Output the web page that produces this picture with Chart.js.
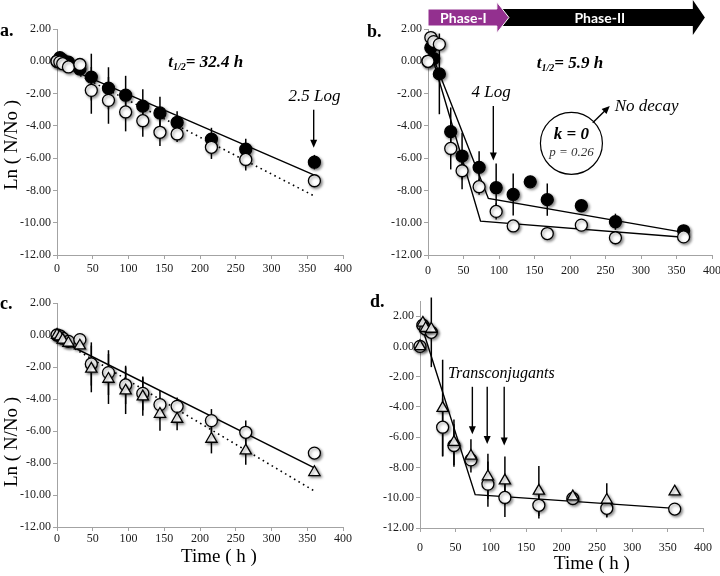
<!DOCTYPE html>
<html>
<head>
<meta charset="utf-8">
<script src="https://cdn.jsdelivr.net/npm/chart.js@4.4.0/dist/chart.umd.min.js"></script>
<style>
  body { margin: 0; background: #fff; width: 720px; height: 576px; position: relative; overflow: hidden; }
  canvas { position: absolute; }
</style>
</head>
<body>
<canvas id="a" width="360" height="290" style="left:0;top:0"></canvas>
<canvas id="b" width="360" height="290" style="left:360px;top:0"></canvas>
<canvas id="c" width="360" height="286" style="left:0;top:290px"></canvas>
<canvas id="d" width="360" height="286" style="left:360px;top:290px"></canvas>
<script>
// sampling times (h)
const hours = [0, 4, 8, 16, 32, 48, 72, 96, 120, 144, 168, 216, 264, 360];
const hoursShort = [0, 4, 8, 16, 32, 48, 72, 96, 120, 168, 216, 264, 360];
const xTicks = [0, 50, 100, 150, 200, 250, 300, 350, 400];
const yTicks = [2, 0, -2, -4, -6, -8, -10, -12];

// a.
const filledA    = [0, 0.22, 0.08, -0.05, -0.48, -0.98, -1.67, -2.1, -2.78, -3.2, -3.79, -4.82, -5.45, -6.25];
const filledErrA = [0, 0, 0, 0, 0.15, 1.45, 1.3, 1.2, 1.05, 1.0, 0.7, 0.7, 0.65, 0.45];
const openA      = [0, -0.05, -0.15, -0.35, -0.2, -1.8, -2.42, -3.14, -3.68, -4.4, -4.5, -5.33, -6.08, -7.4];
const openErrA   = [0, 0, 0, 0, 0.15, 1.45, 1.45, 1.2, 1.0, 0.85, 0.5, 0.72, 0.68, 0.38];
const fitXA      = [0, 360];
const fitFilledA = [-0.15, -7.05];
const fitOpenA   = [-0.15, -8.35];

// b.
const filledB    = [0, 0.84, 0.17, -0.78, -4.36, -5.87, -6.57, -7.83, -8.25, -7.47, -8.57, -8.95, -9.94, -10.5];
const filledErrB = [0, 0, 0, 2.5, 1.5, 1.45, 1.0, 1.5, 1.3, 0, 1.0, 0, 0.5, 0.2];
const openB      = [0, 1.47, 1.22, 1.05, -5.4, -6.78, -7.77, -9.3, -10.2, -10.67, -10.15, -10.93, -10.88];
const openErrB   = [0, 0, 0, 0.3, 1.3, 1.15, 0.5, 0.5, 0.2, 0, 0, 0.4, 0];
const fitXFilledB = [3, 85, 360];
const fitFilledB  = [0.7, -8.5, -10.6];
const fitXOpenB   = [3, 74, 360];
const fitOpenB    = [0.7, -9.9, -10.9];

// c.
const circC    = [0, -0.05, -0.2, -0.4, -0.29, -1.81, -2.35, -3.12, -3.65, -4.35, -4.46, -5.35, -6.08, -7.38];
const circErrC = [0, 0, 0, 0, 0.2, 1.35, 1.4, 1.2, 1.05, 0.9, 0.55, 0.72, 0.73, 0.38];
const triC     = [0, -0.1, -0.3, -0.5, -0.67, -2.12, -2.75, -3.48, -3.85, -4.94, -5.25, -6.5, -7.23, -8.58];
const triErrC  = [0, 0, 0, 0, 0.2, 1.46, 1.56, 1.46, 1.2, 1.04, 0.7, 0.9, 0.88, 0];
const fitXC    = [0, 360];
const fitCircC = [-0.25, -8.3];
const fitTriC  = [-0.2, -9.75];

// d.
const circD    = [0, 1.4, 1.15, 0.93, -5.34, -6.55, -7.5, -9.1, -9.98, -10.5, -10.05, -10.7, -10.75];
const circErrD = [0, 0, 0, 2.3, 1.9, 1.4, 0.4, 1.5, 1.3, 0.87, 0.2, 0.6, 0.2];
const triD     = [0, 1.55, 1.2, 1.15, -4.08, -6.33, -7.24, -8.6, -8.87, -9.55, -9.93, -10.15, -9.6];
const triErrD  = [0, 0, 0, 0, 3.2, 1.5, 1.1, 1.5, 1.6, 1.65, 0.2, 1.1, 0.2];
const fitXD    = [4, 78, 360];
const fitD     = [1.1, -9.8, -10.7];

const serif = '"Liberation Serif", "Times New Roman", serif';
const axisGrey = '#a3a3a3';
Chart.defaults.font.family = serif;

function pts(xs, ys) {
  return xs.map((x, i) => ({ x: x, y: ys[i] }));
}

function markers(xs, ys, style) {
  return {
    data: pts(xs, ys),
    pointStyle: style === 'tri' ? 'triangle' : 'circle',
    pointRadius: style === 'tri' ? 6.5 : 6,
    pointBackgroundColor: style === 'filled' ? '#000' : '#fff',
    pointBorderColor: '#000',
    pointBorderWidth: 1.3,
    showLine: false,
    clip: false,
    shadow: true
  };
}

function fitLine(xs, ys, dotted) {
  return {
    data: pts(xs, ys),
    showLine: true,
    borderColor: '#000',
    borderWidth: dotted ? 1.6 : 1.4,
    borderDash: dotted ? [1.6, 3.6] : [],
    pointRadius: 0,
    fill: false,
    clip: false
  };
}

function arrow(ctx, x1, y1, x2, y2, head) {
  const h = head || 8;
  const ang = Math.atan2(y2 - y1, x2 - x1);
  ctx.beginPath();
  ctx.moveTo(x1, y1);
  ctx.lineTo(x2 - Math.cos(ang) * h * 0.8, y2 - Math.sin(ang) * h * 0.8);
  ctx.stroke();
  ctx.beginPath();
  ctx.moveTo(x2, y2);
  ctx.lineTo(x2 - h * Math.cos(ang) + 3.5 * Math.sin(ang), y2 - h * Math.sin(ang) - 3.5 * Math.cos(ang));
  ctx.lineTo(x2 - h * Math.cos(ang) - 3.5 * Math.sin(ang), y2 - h * Math.sin(ang) + 3.5 * Math.cos(ang));
  ctx.closePath();
  ctx.fill();
}

const extras = {
  id: 'extras',
  beforeDatasetsDraw(chart, args, o) {
    const ctx = chart.ctx, xs = chart.scales.x, ys = chart.scales.y;
    ctx.save();
    ctx.strokeStyle = '#000';
    ctx.lineWidth = 1.5;
    (o.errors || []).forEach(e => {
      e.x.forEach((t, i) => {
        const d = e.err[i];
        if (!d) return;
        const px = xs.getPixelForValue(t);
        ctx.beginPath();
        ctx.moveTo(px, ys.getPixelForValue(e.y[i] + d));
        ctx.lineTo(px, ys.getPixelForValue(e.y[i] - d));
        ctx.stroke();
      });
    });
    ctx.restore();
  },
  beforeDatasetDraw(chart, args) {
    if (chart.data.datasets[args.index].shadow) {
      const ctx = chart.ctx;
      ctx.save();
      ctx.shadowColor = 'rgba(0,0,0,0.45)';
      ctx.shadowBlur = 3;
      ctx.shadowOffsetX = 1.5;
      ctx.shadowOffsetY = 1.5;
    }
  },
  afterDatasetDraw(chart, args) {
    if (chart.data.datasets[args.index].shadow) chart.ctx.restore();
  },
  afterDraw(chart, args, o) {
    const ctx = chart.ctx, xs = chart.scales.x, ys = chart.scales.y;
    const X = v => xs.getPixelForValue(v), Y = v => ys.getPixelForValue(v);
    ctx.save();
    ctx.fillStyle = '#000';
    ctx.strokeStyle = '#000';
    ctx.lineWidth = 1.4;

    // phase banner (panel b)
    if (o.phases) {
      const p = o.phases;
      ctx.fillStyle = '#000';
      ctx.beginPath();
      ctx.moveTo(X(p.blackFrom), 9);
      ctx.lineTo(X(p.blackBody), 9);
      ctx.lineTo(X(p.blackBody), 0);
      ctx.lineTo(X(p.blackTip), 17.5);
      ctx.lineTo(X(p.blackBody), 35);
      ctx.lineTo(X(p.blackBody), 26);
      ctx.lineTo(X(p.blackFrom), 26);
      ctx.closePath();
      ctx.fill();
      ctx.fillStyle = '#93308f';
      ctx.strokeStyle = '#fff';
      ctx.lineWidth = 1;
      ctx.beginPath();
      ctx.moveTo(X(0), 9);
      ctx.lineTo(X(p.purpleBody), 9);
      ctx.lineTo(X(p.purpleBody), 2);
      ctx.lineTo(X(p.purpleTip), 17.5);
      ctx.lineTo(X(p.purpleBody), 33);
      ctx.lineTo(X(p.purpleBody), 26);
      ctx.lineTo(X(0), 26);
      ctx.closePath();
      ctx.fill();
      ctx.stroke();
      ctx.fillStyle = '#fff';
      ctx.font = 'bold 14px Lato, "Open Sans", sans-serif';
      ctx.textAlign = 'center';
      ctx.textBaseline = 'middle';
      ctx.fillText('Phase-I', X(p.purpleBody / 2) + 1, 18);
      ctx.fillText('Phase-II', X(p.labelII), 18);
      ctx.fillStyle = '#000';
      ctx.strokeStyle = '#000';
      ctx.lineWidth = 1.4;
    }

    // half-life label with subscript
    if (o.half) {
      const h = o.half;
      const big = 'italic bold 17px ' + serif, small = 'italic bold 10px ' + serif;
      ctx.font = big; const w1 = ctx.measureText('t').width;
      ctx.font = small; const w2 = ctx.measureText('1/2').width;
      ctx.font = big; const w3 = ctx.measureText(h.text).width;
      let x = X(h.x) - (w1 + w2 + w3) / 2;
      const y = Y(h.y);
      ctx.textAlign = 'left';
      ctx.textBaseline = 'alphabetic';
      ctx.font = big; ctx.fillText('t', x, y + 6); x += w1;
      ctx.font = small; ctx.fillText('1/2', x, y + 9); x += w2;
      ctx.font = big; ctx.fillText(h.text, x, y + 6);
    }

    (o.texts || []).forEach(t => {
      ctx.font = t.font;
      ctx.fillStyle = t.color || '#000';
      ctx.textAlign = t.align || 'center';
      ctx.textBaseline = 'middle';
      ctx.fillText(t.text, X(t.x), Y(t.y));
    });
    ctx.fillStyle = '#000';

    (o.arrows || []).forEach(a => arrow(ctx, X(a.x1), Y(a.y1), X(a.x2), Y(a.y2)));

    if (o.circle) {
      ctx.lineWidth = 1.2;
      ctx.beginPath();
      ctx.arc(X(o.circle.x), Y(o.circle.y), o.circle.r, 0, Math.PI * 2);
      ctx.stroke();
      ctx.textAlign = 'center';
      ctx.textBaseline = 'middle';
      ctx.font = 'italic bold 17px ' + serif;
      ctx.fillText('k = 0', X(o.circle.x), Y(o.circle.y) - 9);
      ctx.font = 'italic 13px ' + serif;
      ctx.fillStyle = '#333';
      ctx.fillText('p = 0.26', X(o.circle.x), Y(o.circle.y) + 9);
      ctx.fillStyle = '#000';
    }

    // panel letter and axis titles (canvas pixels)
    (o.labels || []).forEach(l => {
      ctx.save();
      ctx.font = l.font;
      ctx.fillStyle = '#000';
      ctx.textAlign = l.align || 'center';
      ctx.textBaseline = 'middle';
      ctx.translate(l.px, l.py);
      if (l.rotate) ctx.rotate(-Math.PI / 2);
      ctx.fillText(l.text, 0, 0);
      ctx.restore();
    });
    ctx.restore();
  }
};

function makePanel(id, o) {
  const canvas = document.getElementById(id);
  const W = canvas.width, H = canvas.height;
  const gridOpts = { display: true, drawOnChartArea: false, drawTicks: true, tickLength: 4, color: axisGrey };
  const tickFont = { family: serif, size: 12 };
  return new Chart(canvas, {
    type: 'scatter',
    data: { datasets: o.datasets },
    options: {
      responsive: false,
      animation: false,
      events: [],
      layout: { padding: { top: o.area.t, right: W - o.area.r, left: 0, bottom: 0 } },
      plugins: { legend: { display: false }, tooltip: { enabled: false }, extras: o.extras },
      scales: {
        x: {
          type: 'linear', min: 0, max: 400,
          afterBuildTicks: s => { s.ticks = xTicks.map(v => ({ value: v })); },
          afterFit: s => { s.height = H - o.area.b; s.paddingLeft = 0; s.paddingRight = 0; },
          grid: gridOpts,
          border: { display: true, color: axisGrey, width: 1 },
          ticks: { padding: o.xPad, font: tickFont, color: '#1a1a1a', maxRotation: 0, autoSkip: false }
        },
        y: {
          type: 'linear', min: -12, max: o.yMax || 2,
          afterBuildTicks: s => { s.ticks = yTicks.map(v => ({ value: v })); },
          afterFit: s => { s.width = o.area.l; s.paddingTop = 0; s.paddingBottom = 0; },
          grid: gridOpts,
          border: { display: true, color: axisGrey, width: 1 },
          ticks: { padding: 2, font: tickFont, color: '#1a1a1a', autoSkip: false, callback: v => v.toFixed(2) }
        }
      }
    },
    plugins: [extras]
  });
}

const letterFont = 'bold 18px ' + serif;
const titleFont = '19px ' + serif;
const italic = 'italic 17px ' + serif;

makePanel('a', {
  area: { l: 57, r: 343, t: 29, b: 255 }, xPad: 3,
  datasets: [
    markers(hours, openA, 'open'),
    markers(hours, filledA, 'filled'),
    fitLine(fitXA, fitFilledA, false),
    fitLine(fitXA, fitOpenA, true)
  ],
  extras: {
    errors: [{ x: hours, y: filledA, err: filledErrA }, { x: hours, y: openA, err: openErrA }],
    half: { x: 208, y: 0, text: '= 32.4 h' },
    texts: [{ text: '2.5 Log', x: 360, y: -2.2, font: italic }],
    arrows: [{ x1: 359, y1: -3.0, x2: 359, y2: -5.35 }],
    labels: [
      { text: 'a.', px: 0, py: 31, font: letterFont, align: 'left' },
      { text: 'Ln ( N/No )', px: 12, py: 145, font: titleFont, rotate: true }
    ]
  }
});

makePanel('b', {
  area: { l: 68, r: 352, t: 29, b: 255 }, xPad: 5,
  datasets: [
    markers(hoursShort, openB, 'open'),
    markers(hours, filledB, 'filled'),
    fitLine(fitXFilledB, fitFilledB, false),
    fitLine(fitXOpenB, fitOpenB, false)
  ],
  extras: {
    errors: [{ x: hours, y: filledB, err: filledErrB }, { x: hoursShort, y: openB, err: openErrB }],
    phases: { purpleBody: 97, purpleTip: 114, blackFrom: 100, blackBody: 373, blackTip: 390, labelII: 242 },
    half: { x: 200, y: -0.05, text: '= 5.9 h' },
    texts: [
      { text: '4 Log', x: 89, y: -1.95, font: italic },
      { text: 'No decay', x: 263, y: -2.78, font: italic, align: 'left' }
    ],
    arrows: [
      { x1: 92, y1: -2.77, x2: 92, y2: -6.15 },
      { x1: 232, y1: -3.81, x2: 256, y2: -2.77 }
    ],
    circle: { x: 202, y: -5.08, r: 31 },
    labels: [{ text: 'b.', px: 7, py: 32, font: letterFont, align: 'left' }]
  }
});

makePanel('c', {
  area: { l: 57, r: 343, t: 13, b: 237 }, xPad: 1,
  datasets: [
    markers(hours, triC, 'tri'),
    markers(hours, circC, 'open'),
    fitLine(fitXC, fitCircC, false),
    fitLine(fitXC, fitTriC, true)
  ],
  extras: {
    errors: [{ x: hours, y: circC, err: circErrC }, { x: hours, y: triC, err: triErrC }],
    labels: [
      { text: 'c.', px: 0, py: 14, font: letterFont, align: 'left' },
      { text: 'Ln ( N/No )', px: 12, py: 152, font: titleFont, rotate: true },
      { text: 'Time ( h )', px: 219, py: 267, font: titleFont }
    ]
  }
});

makePanel('d', {
  area: { l: 60, r: 343, t: 11, b: 238 }, xPad: 9, yMax: 3,
  datasets: [
    markers(hoursShort, triD, 'tri'),
    markers(hoursShort, circD, 'open'),
    fitLine(fitXD, fitD, false)
  ],
  extras: {
    errors: [{ x: hoursShort, y: circD, err: circErrD }, { x: hoursShort, y: triD, err: triErrD }],
    texts: [{ text: 'Transconjugants', x: 115, y: -1.78, font: 'italic 16px ' + serif }],
    arrows: [
      { x1: 74, y1: -2.67, x2: 74, y2: -5.8 },
      { x1: 95, y1: -2.67, x2: 95, y2: -6.45 },
      { x1: 119, y1: -2.67, x2: 119, y2: -6.55 }
    ],
    labels: [
      { text: 'd.', px: 10, py: 12, font: letterFont, align: 'left' },
      { text: 'Time ( h )', px: 232, py: 274, font: titleFont }
    ]
  }
});
</script>
</body>
</html>
